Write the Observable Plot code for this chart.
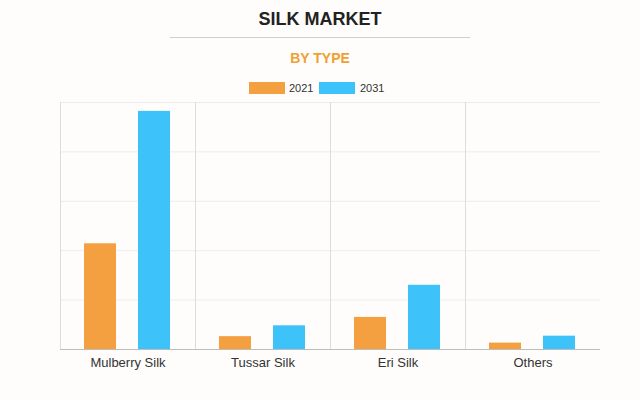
<!DOCTYPE html>
<html>
<head>
<meta charset="utf-8">
<script src="https://cdn.jsdelivr.net/npm/d3@7"></script>
<script src="https://cdn.jsdelivr.net/npm/@observablehq/plot@0.6"></script>
<style>
  html, body { margin: 0; padding: 0; background: #fefdfb; width: 640px; height: 400px; overflow: hidden; }
  body { position: relative; font-family: "Liberation Sans", Arial, sans-serif; }
  .abs { position: absolute; }
  #title { left: 0; width: 640px; top: 9px; text-align: center; font-weight: bold; font-size: 18px; color: #222; }
  #rule { left: 170px; width: 300px; top: 37px; height: 1px; background: #cfcfcf; }
  #sub { left: 0; width: 640px; top: 50px; text-align: center; font-weight: bold; font-size: 14px; color: #f0a030; }
  .sw { width: 36px; height: 12px; top: 82px; }
  .lt { top: 82px; font-size: 11px; color: #333; line-height: 12px; }
  #chart { left: 0; top: 96px; }
</style>
</head>
<body>
<div id="title" class="abs">SILK MARKET</div>
<div id="rule" class="abs"></div>
<div id="sub" class="abs">BY TYPE</div>
<div id="sw0" class="abs sw" style="left:249px"></div>
<div id="lt0" class="abs lt" style="left:289px"></div>
<div id="sw1" class="abs sw" style="left:319px"></div>
<div id="lt1" class="abs lt" style="left:360px"></div>
<div id="chart" class="abs"></div>
<script>
const categories = ["Mulberry Silk", "Tussar Silk", "Eri Silk", "Others"];
const years = ["2021", "2031"];
const values2021 = [2.14, 0.26, 0.65, 0.13];
const values2031 = [4.82, 0.48, 1.30, 0.27];
const colors = ["#F5A040", "#3DC3FA"];

const data = categories.flatMap((c, i) => [
  {type: c, year: years[0], value: values2021[i]},
  {type: c, year: years[1], value: values2031[i]}
]);

years.forEach((y, i) => {
  document.getElementById("sw" + i).style.background = colors[i];
  document.getElementById("lt" + i).textContent = y;
});

const chart = Plot.plot({
  width: 640,
  height: 300,
  marginLeft: 59,
  marginRight: 40,
  marginTop: 6,
  marginBottom: 47,
  style: {background: "transparent", fontFamily: "'Liberation Sans', Arial, sans-serif", fontSize: "13px", color: "#333", overflow: "visible"},
  fx: {domain: categories, padding: 0, label: null, axis: "bottom", tickSize: 0, tickPadding: 8},
  x: {domain: years, paddingInner: 0.4, paddingOuter: 0.45, axis: null},
  y: {domain: [0, 5], axis: null},
  color: {domain: years, range: colors},
  marks: [
    Plot.ruleY([1, 2, 3, 4, 5], {stroke: "#ececec"}),
    Plot.frame({anchor: "left", stroke: "#dcdcdc"}),
    Plot.barY(data, {fx: "type", x: "year", y: "value", fill: "year"}),
    Plot.ruleY([0], {stroke: "#bdbdbd"})
  ]
});
document.getElementById("chart").appendChild(chart);
</script>
</body>
</html>
